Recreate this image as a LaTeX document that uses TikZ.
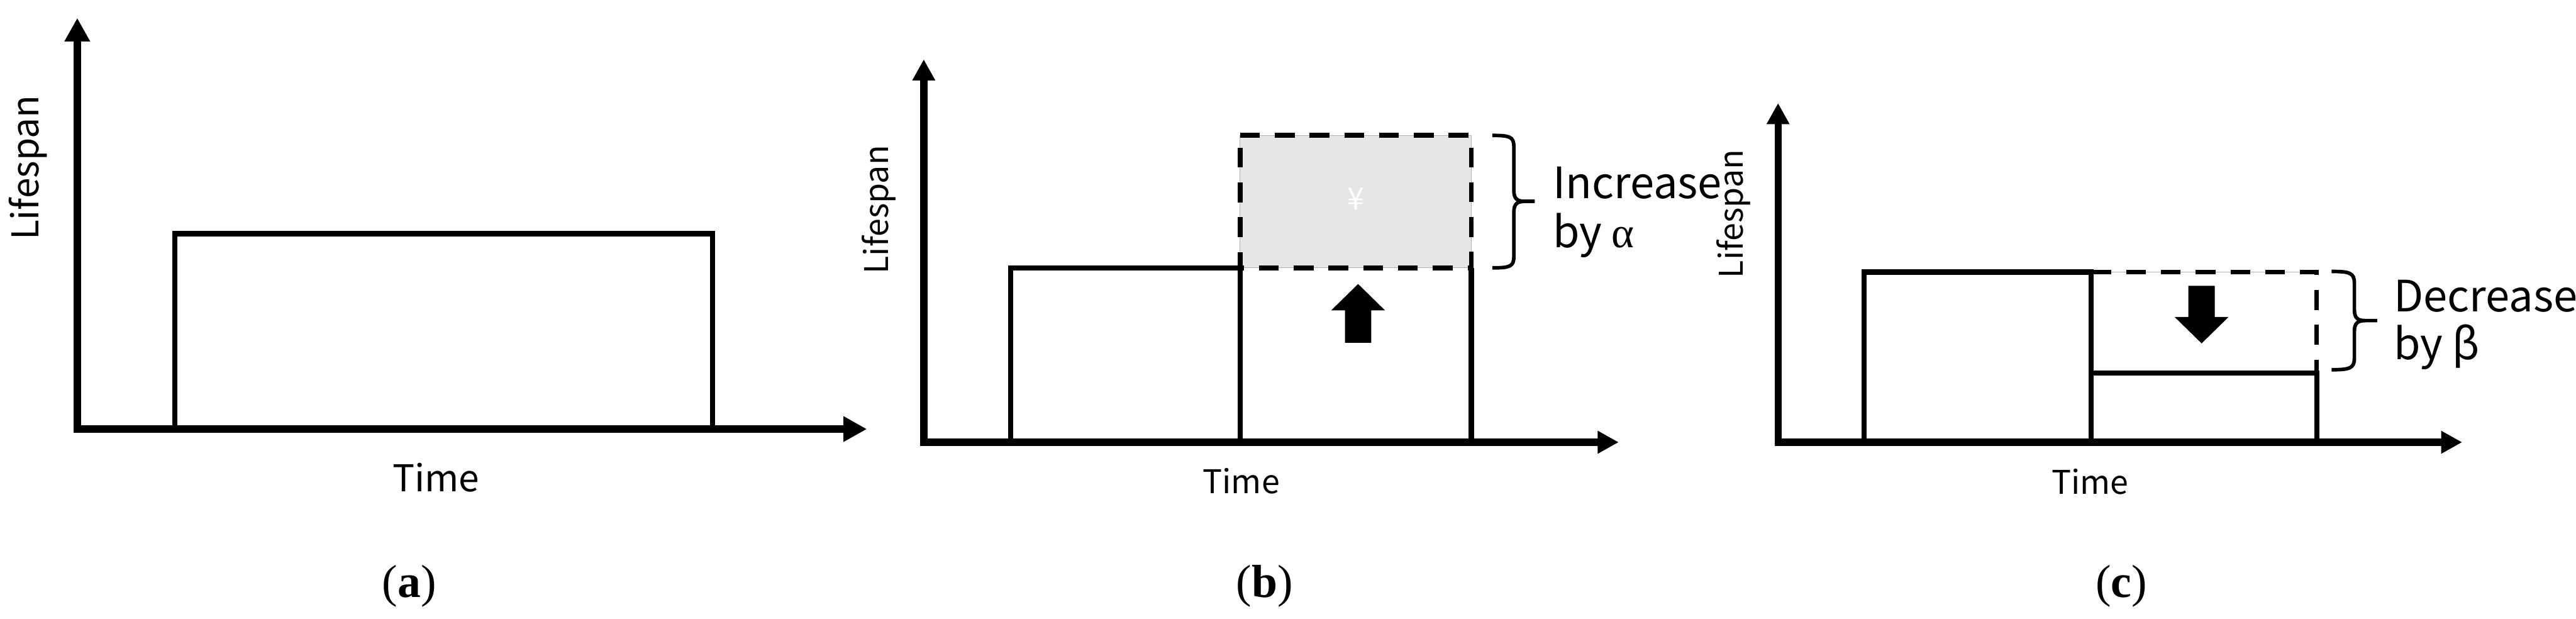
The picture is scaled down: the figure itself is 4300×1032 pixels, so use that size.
\documentclass[tikz,border=0pt]{standalone}
\usepackage{fontspec}
\setmainfont{Liberation Serif}
\newfontfamily\jpfont{Noto Sans CJK JP}
\usetikzlibrary{arrows.meta}
\definecolor{boxgray}{HTML}{E6E6E6}
\begin{document}
\begin{tikzpicture}[x=0.01cm,y=-0.01cm,
  axisA/.style={line width=3.4pt, line join=miter,
    {Triangle[length=11.1pt,width=11.4pt]}-{Triangle[length=11.1pt,width=11.4pt]}},
  axisB/.style={line width=3.4pt, line join=miter,
    {Triangle[length=10pt,width=10.2pt]}-{Triangle[length=10pt,width=10.2pt]}},
  bar/.style={line width=2.4pt, line join=miter},
  dashbox/.style={line width=2.3pt, dash pattern=on 9.4pt off 7.1pt},
  bracepath/.style={line width=1.7pt, line cap=butt},
  blockarrow/.style={fill=black, draw=none},
  txt/.style={inner sep=0pt, outer sep=0pt},
  lblA/.style={txt, font=\jpfont\fontsize{17.5}{20}\selectfont},
  lblB/.style={txt, font=\jpfont\fontsize{15.5}{18}\selectfont},
  note/.style={txt, font=\jpfont\fontsize{20.5}{24}\selectfont},
  capt/.style={txt, font=\fontsize{22}{26}\selectfont}
]
\useasboundingbox (0,0) rectangle (4300,1032);

% ---------------- panel (a)
\coordinate (aTop) at (129,30);
\coordinate (aO) at (129,716);
\coordinate (aRight) at (1447,716);
\draw[bar] (292,716) -- (292,390) -- (1189,390) -- (1189,716);
\draw[axisA] (aTop) -- (aO) -- (aRight);
\node[lblA, rotate=90, anchor=base] (aLife) at (65,280) {Lifespan};
\node[lblA, anchor=base] (aTime) at (728,820) {Time};
\node[capt, anchor=base] (aCap) at (683,997) {(\textbf{a})};

% ---------------- panel (b)
\coordinate (bTop) at (1542,99);
\coordinate (bO) at (1542,738);
\coordinate (bRight) at (2702,738);
\fill[boxgray] (2070,226) rectangle (2456,447);
\draw[black!30, line width=0.3pt] (2070,226) rectangle (2456,447);
\draw[bar] (1687,738) -- (1687,447) -- (2070,447) -- (2070,738);
\draw[bar] (2456,447) -- (2456,738);
\draw[dashbox] (2070,226) -- (2456,226) -- (2456,447) -- (2070,447) -- cycle;
\draw[axisB] (bTop) -- (bO) -- (bRight);
\fill[blockarrow] (2245,572) -- (2245,518) -- (2222,518) -- (2267,474) -- (2312,518) -- (2289,518) -- (2289,572) -- cycle;
\node[txt, text=white, font=\jpfont\fontsize{14.5}{16}\selectfont] (yen) at (2263,332) {¥};
\draw[bracepath] (2491,226) .. controls (2520,226) and (2527,228) .. (2527,245)
  -- (2527,318) .. controls (2527,332) and (2533,336) .. (2545,336) -- (2562,336)
  (2545,336) .. controls (2533,336) and (2527,340) .. (2527,354)
  -- (2527,428) .. controls (2527,445) and (2520,447) .. (2491,447);
\node[note, anchor=base west] (inc) at (2592,331) {Increase};
\node[note, anchor=base west] (incb) at (2592,413) {by {\fontspec{Liberation Serif}α}};
\node[lblB, rotate=90, anchor=base] (bLife) at (1483,350) {Lifespan};
\node[lblB, anchor=base] (bTime) at (2072,824) {Time};
\node[capt, anchor=base] (bCap) at (2111,997) {(\textbf{b})};

% ---------------- panel (c)
\coordinate (cTop) at (2968,172);
\coordinate (cO) at (2968,738);
\coordinate (cRight) at (4110,738);
\draw[black!30, line width=0.3pt] (3491,454) -- (3867,454);
\draw[bar] (3112,738) -- (3112,454) -- (3491,454) -- (3491,738);
\draw[bar] (3491,623) -- (3867,623) -- (3867,738);
\draw[dashbox] (3491,454) -- (3867,454) -- (3867,623);
\draw[axisB] (cTop) -- (cO) -- (cRight);
\fill[blockarrow] (3653,477) -- (3697,477) -- (3697,529) -- (3720,529) -- (3675,573) -- (3630,529) -- (3653,529) -- cycle;
\draw[bracepath] (3892,453) .. controls (3921,453) and (3930,455) .. (3930,472)
  -- (3930,517) .. controls (3930,531) and (3936,535) .. (3948,535) -- (3968,535)
  (3948,535) .. controls (3936,535) and (3930,539) .. (3930,553)
  -- (3930,598) .. controls (3930,615) and (3921,617) .. (3892,617);
\node[note, anchor=base west] (dec) at (3996,520) {Decrease};
\node[note, anchor=base west] (decb) at (3996,600) {by β};
\node[lblB, rotate=90, anchor=base] (cLife) at (2910,357) {Lifespan};
\node[lblB, anchor=base] (cTime) at (3489,825) {Time};
\node[capt, anchor=base] (cCap) at (3541,997) {(\textbf{c})};
\end{tikzpicture}
\end{document}
